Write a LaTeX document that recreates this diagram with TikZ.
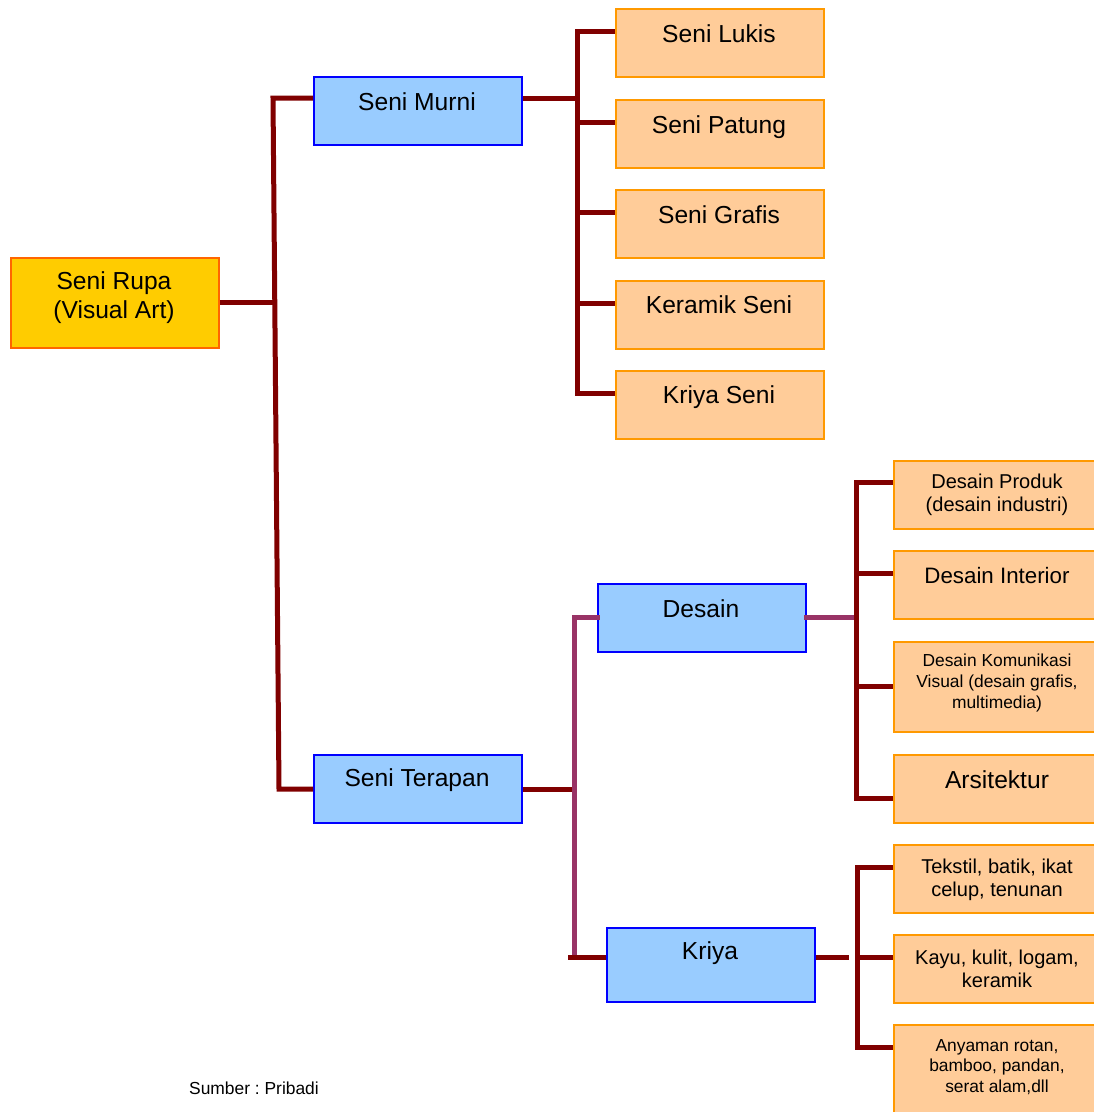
\documentclass[tikz,border=0pt]{standalone}
\usepackage{fontspec}
\setmainfont{Liberation Sans}
\usetikzlibrary{positioning}
\frenchspacing

\definecolor{merahtua}{HTML}{800000}
\definecolor{ungu}{HTML}{993366}
\definecolor{kuning}{HTML}{FFCC00}
\definecolor{jingga}{HTML}{FF6600}
\definecolor{biru}{HTML}{99CCFF}
\definecolor{krem}{HTML}{FFCC99}
\definecolor{oranye}{HTML}{FF9900}

\newcommand{\hurufbesar}{\fontsize{14}{16.5}\selectfont}
\newcommand{\hurufmenengah}{\fontsize{12.7}{15}\selectfont}
\newcommand{\hurufsedang}{\fontsize{11.4}{13.4}\selectfont}
\newcommand{\hurufkecil}{\fontsize{9.9}{11.7}\selectfont}

\tikzset{
  kotak/.style={rectangle, anchor=north west, inner sep=0pt, line width=1pt,
    minimum width=41.6mm, minimum height=13.6mm},
  induk/.style={kotak, fill=kuning, draw=jingga},
  cabang/.style={kotak, fill=biru, draw=blue},
  ranting/.style={kotak, fill=krem, draw=oranye},
  teks/.style={align=center, inner sep=0pt, font=\hurufbesar},
  garis/.style={merahtua, line width=1mm},
  batang/.style={garis, line cap=rect},
  garisungu/.style={ungu, line width=1mm, line cap=rect}
}

\begin{document}
\begin{tikzpicture}[x=0.2mm,y=-0.2mm]
\useasboundingbox (0,0) rectangle (1094,1112);

% akar
\node[induk, minimum height=18mm] (rupa) at (10,257) {};
\node[teks] (rupa-t) at (114,298) {Seni Rupa\\(Visual Art)};

% dua cabang utama
\node[cabang] (murni) at (313,76) {};
\node[teks] (murni-t) at (417,102) {Seni Murni};
\node[cabang] (terapan) at (313,754) {};
\node[teks] (terapan-t) at (417,780) {Seni Terapan};

\coordinate (a1) at (273,98);
\coordinate (a2) at (279,789);
\draw[garis] (rupa.east) -- (rupa.east -| 275,0);
\draw[garis] (a1 -| murni.west) -- (a1) -- (a2) -- (a2 -| terapan.west);

% seni murni
\coordinate (m0) at (577,98);
\draw[garis] (murni.east |- m0) -- (m0);
\foreach \nm/\y/\ty/\txt in {lukis/8/34/Seni Lukis,patung/99/127/Seni Patung,
  grafis/189/215/Seni Grafis,keramik/280/305/Keramik Seni,kriyaseni/370/397/Kriya Seni}
{
\node[ranting] (\nm) at (615,\y) {};
\node[teks] (\nm-t) at (719,\ty) {\txt};
\coordinate (\nm-j) at (577,{\y+23});
\draw[garis] (\nm-j) -- (\nm-j -| \nm.west);
}
\draw[batang] (lukis-j) -- (kriyaseni-j);

% seni terapan
\node[cabang] (desain) at (597,583) {};
\node[teks] (desain-t) at (701,609) {Desain};
\node[cabang, minimum height=14.8mm] (kriya) at (606,927) {};
\node[teks] (kriya-t) at (710,953) {Kriya};

\coordinate (t0) at (572,789);
\coordinate (t1) at (574,617);
\coordinate (t2) at (574,954);
\coordinate (t3) at (568,957);
\draw[garis] (terapan.east |- t0) -- (t0);
\draw[garisungu] (t1 -| desain.west) -- (t1) -- (t2);
\draw[garis] (t3) -- (t3 -| kriya.west);

% desain
\node[ranting] (produk) at (893,460) {};
\node[teks, font=\hurufsedang] (produk-t) at (997,495) {Desain Produk\\(desain industri)};
\node[ranting] (interior) at (893,550) {};
\node[teks, font=\hurufmenengah] (interior-t) at (997,576) {Desain Interior};
\node[ranting, minimum height=18mm] (dkv) at (893,641) {};
\node[teks, font=\hurufkecil] (dkv-t) at (997,683) {Desain Komunikasi\\Visual (desain grafis,\\multimedia)};
\node[ranting] (arsitektur) at (893,754) {};
\node[teks] (arsitektur-t) at (997,780) {Arsitektur};

\coordinate (d0) at (855,617);
\draw[garisungu] (desain.east |- d0) -- (d0);
\coordinate (d1) at (856,482);
\coordinate (d2) at (856,573);
\coordinate (d3) at (856,686);
\coordinate (d4) at (856,798);
\draw[batang] (d1) -- (d4);
\draw[garis] (d1) -- (d1 -| produk.west);
\draw[garis] (d2) -- (d2 -| interior.west);
\draw[garis] (d3) -- (d3 -| dkv.west);
\draw[garis] (d4) -- (d4 -| arsitektur.west);

% kriya
\node[ranting] (tekstil) at (893,844) {};
\node[teks, font=\hurufsedang] (tekstil-t) at (997,880) {Tekstil, batik, ikat\\celup, tenunan};
\node[ranting] (kayu) at (893,934) {};
\node[teks, font=\hurufsedang] (kayu-t) at (997,969) {Kayu, kulit, logam,\\keramik};
\node[ranting, minimum height=18mm] (anyaman) at (893,1024) {};
\node[teks, font=\hurufkecil] (anyaman-t) at (997,1067) {Anyaman rotan,\\bamboo, pandan,\\serat alam,dll};

\coordinate (k0) at (849,957);
\draw[garis] (kriya.east |- k0) -- (k0);
\coordinate (k1) at (857,867);
\coordinate (k2) at (857,957);
\coordinate (k3) at (857,1047);
\draw[batang] (k1) -- (k3);
\draw[garis] (k1) -- (k1 -| tekstil.west);
\draw[garis] (k2) -- (k2 -| kayu.west);
\draw[garis] (k3) -- (k3 -| anyaman.west);

\node[teks, font=\hurufkecil] (sumber) at (254,1088) {Sumber : Pribadi};
\end{tikzpicture}
\end{document}
